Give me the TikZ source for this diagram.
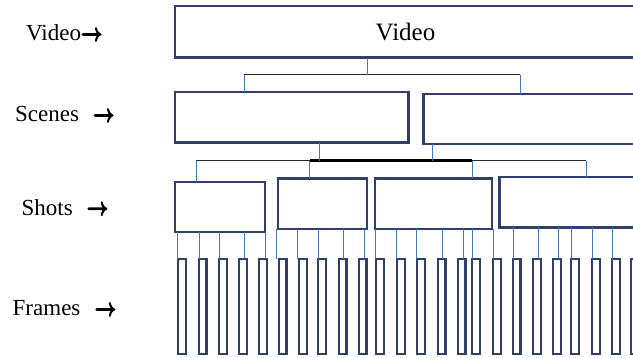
\documentclass[tikz,border=0pt]{standalone}
\usepackage{fontspec}
\setmainfont{Liberation Serif}
\definecolor{boxline}{RGB}{48,64,104}
\definecolor{linkblue}{RGB}{70,116,198}
% heavier arrow glyph: fill and stroke the outline
\newcommand\heavyglyph[1]{\special{pdf:literal direct 2 Tr 1.1 w}#1\special{pdf:literal direct 0 Tr}}
\begin{document}
\begin{tikzpicture}[x=1pt,y=-1pt,
  unitbox/.style={draw=boxline, line width=2.4pt, fill=white, inner sep=0pt, outer sep=0pt},
  framebox/.style={unitbox, minimum width=7.6pt, minimum height=94.6pt},
  link/.style={draw=linkblue, line width=1pt},
  bar/.style={draw=black!85, line width=1pt},
  heavybar/.style={draw=black, line width=2.4pt},
  levellabel/.style={anchor=base west, inner sep=0pt, font=\fontsize{23}{26}\selectfont}]
\clip (0,0) rectangle (633,357);

% level labels
\newcommand\levelarrow{{\fontsize{27}{30}\selectfont\boldmath\scalebox{0.74}[1]{\heavyglyph{$\rightarrow$}}}}
\node[levellabel] (lvideo)  at (26,40.7)   {Video\levelarrow};
\node[levellabel] (lscenes) at (15,121.7)  {Scenes\hspace{14pt}\levelarrow};
\node[levellabel] (lshots)  at (21.5,215)  {Shots\hspace{14pt}\levelarrow};
\node[levellabel] (lframes) at (12.5,315.7){Frames\hspace{14.5pt}\levelarrow};

% video
\node[unitbox, minimum width=461pt, minimum height=51.5pt,
      font=\fontsize{25}{28}\selectfont] (video) at (405.5,31.75) {Video};

% scenes
\node[unitbox, minimum width=233.5pt, minimum height=50.8pt] (sc1) at (291.75,117.1) {};
\node[unitbox, minimum width=276.7pt, minimum height=50.3pt] (sc2) at (561.65,118.85) {};

% shots
\node[unitbox, minimum width=89.7pt,  minimum height=50pt]   (s1) at (219.85,206.7) {};
\node[unitbox, minimum width=89pt,    minimum height=50.7pt] (s2) at (322.2,203.65) {};
\node[unitbox, minimum width=117.3pt, minimum height=50.7pt] (s3) at (433.35,203.65) {};
\node[unitbox, minimum width=200.7pt, minimum height=50.6pt] (s4) at (599.65,202) {};

% frames
\foreach \i/\x in {1/177,2/197.5,3/218,4/238,5/258,6/277.5,7/298,8/317,
                   9/337.5,10/357.5,11/375,12/396,13/416,14/436.5,15/456.5,
                   16/471,17/492,18/511.5,19/532,20/552,21/570,22/591,23/611,24/630}
  \node[framebox] (f\i) at (\x+5,306.5) {};

% video -> scenes
\coordinate (b1l) at (244,74.5);
\coordinate (b1m) at (367,74.5);
\coordinate (b1r) at (520,74.5);
\draw[bar] (b1l) -- (b1r);
\draw[link] (video.south -| b1m) -- (b1m);
\draw[link] (b1l) -- (sc1.north -| b1l);
\draw[link] (b1r) -- (sc2.north -| b1r);

% scenes -> shots
\coordinate (b2a) at (196,160.5);
\coordinate (b2b) at (309.5,160.5);
\coordinate (b2c) at (319,160.5);
\coordinate (b2d) at (432,160.5);
\coordinate (b2e) at (472,160.5);
\coordinate (b2f) at (586,160.5);
\draw[bar] (b2a) -- (b2f);
\draw[heavybar] (b2b) -- (b2e);
\draw[link] (sc1.south -| b2c) -- (b2c);
\draw[link] (sc2.south -| b2d) -- (b2d);
\draw[link] (b2a) -- (s1.north -| b2a);
\draw[link] (b2b) -- (s2.north -| b2b);
\draw[link] (b2e) -- (s3.north -| b2e);
\draw[link] (b2f) -- (s4.north -| b2f);

% shots -> frames
\foreach \x/\s/\f in {177.5/1/1,199/1/2,219/1/3,244/1/4,265.5/1/5,
                      276.7/2/6,297.7/2/7,318/2/8,343/2/9,364.5/2/10,
                      375.5/3/11,396.5/3/12,416.5/3/13,442/3/14,463/3/15,472/3/16,493/3/17,
                      513/4/18,538.5/4/19,558/4/20,571/4/21,592/4/22,612/4/23}
  \draw[link] (s\s.south -| \x,0) -- (f\f.north -| \x,0);
\end{tikzpicture}
\end{document}
